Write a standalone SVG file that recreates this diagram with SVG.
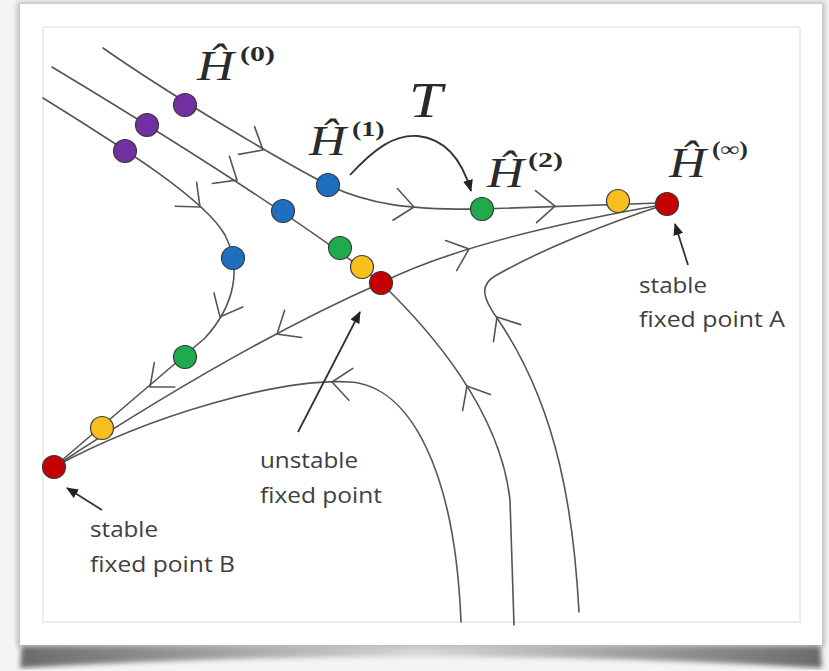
<svg xmlns="http://www.w3.org/2000/svg" xmlns:xlink="http://www.w3.org/1999/xlink" width="829" height="671" viewBox="0 0 829 671">
<style>
.flow{fill:none;stroke:#555;stroke-width:1.6;stroke-linecap:round}
.ann{fill:none;stroke:#333;stroke-width:1.8}
.lbl{font-family:"Open Sans","Liberation Sans",sans-serif;font-size:22px;fill:#404040}
.hh{font-family:"Liberation Serif","DejaVu Serif",serif;font-style:italic;font-size:42px;fill:#2a2a2a}
.sup{font-family:"Liberation Serif","DejaVu Serif",serif;font-weight:bold;font-size:20px;fill:#2a2a2a}
.dot{stroke:#3a3a3a;stroke-width:1.2}
.pu{fill:#7030a0}.bl{fill:#1f6fc0}.gr{fill:#1faa4e}.ye{fill:#f7c01e}.rd{fill:#c40000}
</style>
<defs>
<path id="chev" d="M-19,-16 L0,0 L-19,16" fill="none" stroke="#555" stroke-width="1.6" stroke-linecap="round" stroke-linejoin="miter"/>
<marker id="ah" markerUnits="userSpaceOnUse" markerWidth="12" markerHeight="10" refX="11" refY="5" orient="auto">
<path d="M0,0 L12,5 L0,10 Z" fill="#222"/>
</marker>
<linearGradient id="curl" x1="0" y1="0" x2="1" y2="0">
<stop offset="0" stop-color="#6a6a6a"/>
<stop offset="0.5" stop-color="#d8d8d8"/>
<stop offset="1" stop-color="#6a6a6a"/>
</linearGradient>
<filter id="blur" x="-5%" y="-5%" width="110%" height="110%"><feGaussianBlur stdDeviation="2.5"/></filter>
</defs>
<rect x="0" y="0" width="829" height="671" fill="#f4f4f4"/>
<g id="card">
<path d="M22,640 L820,640 L822,668 Q421,645 20,668 Z" fill="url(#curl)" filter="url(#blur)"/>
<rect x="17" y="2" width="808" height="645" fill="#bdbdbd" filter="url(#blur)"/>
<rect x="20" y="4" width="802" height="641" fill="#ffffff"/>
<rect x="43" y="27" width="757" height="595" fill="#ffffff" stroke="#e6e6e6" stroke-width="1.5"/>
</g>
<g id="connectors">
<path class="flow" d="M103,48 C170,95 280,160 328,185 C370,205 410,210 482,209 L660,203"/>
<path class="flow" d="M52,67 C150,126 290,212 381,283"/>
<path class="flow" d="M43,98 C130,152 205,200 225,235 C242,268 235,305 205,338 L54,467"/>
<path class="flow" d="M381,283 Q470,238 667,204"/>
<path class="flow" d="M381,283 Q240,345 54,467"/>
<path class="flow" d="M54,467 C150,415 280,378 350,382 C410,386 455,470 461,622"/>
<path class="flow" d="M381,283 C430,330 500,410 510,500 L514,625"/>
<path class="flow" d="M579,612 C574,520 560,410 497,318 C482,297 480,285 495,276 C540,250 610,222 667,204"/>
<use xlink:href="#chev" transform="translate(263,150) rotate(30)"/>
<use xlink:href="#chev" transform="translate(237,180) rotate(32)"/>
<use xlink:href="#chev" transform="translate(200,207) rotate(42)"/>
<use xlink:href="#chev" transform="translate(414,207) rotate(8)"/>
<use xlink:href="#chev" transform="translate(555,206) rotate(-2)"/>
<use xlink:href="#chev" transform="translate(469,249) rotate(-20)"/>
<use xlink:href="#chev" transform="translate(220,317) rotate(116)"/>
<use xlink:href="#chev" transform="translate(150,387) rotate(140)"/>
<use xlink:href="#chev" transform="translate(277,334) rotate(148)"/>
<use xlink:href="#chev" transform="translate(332,382) rotate(187)"/>
<use xlink:href="#chev" transform="translate(467,386) rotate(240)"/>
<use xlink:href="#chev" transform="translate(497,317) rotate(238)"/>
<path class="ann" d="M350,175 C375,148 395,134 418,136 C445,139 462,160 471,191" marker-end="url(#ah)"/>
<path class="ann" d="M688,265 L675,224" marker-end="url(#ah)"/>
<path class="ann" d="M298,432 L360,312" marker-end="url(#ah)"/>
<path class="ann" d="M102,510 L67,488" marker-end="url(#ah)"/>
</g>
<g id="dots">
<circle class="dot pu" cx="185" cy="105" r="11.5"/>
<circle class="dot pu" cx="147" cy="125" r="11.5"/>
<circle class="dot pu" cx="125" cy="151" r="11.5"/>
<circle class="dot bl" cx="328" cy="185" r="11.5"/>
<circle class="dot bl" cx="283" cy="211" r="11.5"/>
<circle class="dot bl" cx="233" cy="258" r="11.5"/>
<circle class="dot gr" cx="340" cy="248" r="11.5"/>
<circle class="dot gr" cx="482" cy="209" r="11.5"/>
<circle class="dot gr" cx="185" cy="357" r="11.5"/>
<circle class="dot ye" cx="362" cy="267" r="11.5"/>
<circle class="dot ye" cx="618" cy="201" r="11.5"/>
<circle class="dot ye" cx="102" cy="428" r="11.5"/>
</g>
<g id="fixed-unstable"><circle class="dot rd" cx="381" cy="283" r="11.5"/>
<text class="lbl" x="260" y="468" textLength="98" lengthAdjust="spacingAndGlyphs">unstable</text>
<text class="lbl" x="260" y="503" textLength="122" lengthAdjust="spacingAndGlyphs">fixed point</text></g>
<g id="fixed-A"><circle class="dot rd" cx="667" cy="204" r="11.5"/>
<text class="lbl" x="639" y="293" textLength="68" lengthAdjust="spacingAndGlyphs">stable</text>
<text class="lbl" x="639" y="327" textLength="146" lengthAdjust="spacingAndGlyphs">fixed point A</text></g>
<g id="fixed-B"><circle class="dot rd" cx="54" cy="467" r="11.5"/>
<text class="lbl" x="90" y="537" textLength="68" lengthAdjust="spacingAndGlyphs">stable</text>
<text class="lbl" x="90" y="572" textLength="145" lengthAdjust="spacingAndGlyphs">fixed point B</text></g>
<g id="H0"><text class="hh" transform="translate(197,80) scale(1.22,1)">Ĥ</text><text class="sup" transform="translate(240,61) scale(1.5,1)">(0)</text></g>
<g id="H1"><text class="hh" transform="translate(309,155) scale(1.22,1)">Ĥ</text><text class="sup" transform="translate(352,136) scale(1.4,1)">(1)</text></g>
<g id="H2"><text class="hh" transform="translate(487,187) scale(1.22,1)">Ĥ</text><text class="sup" transform="translate(528,167) scale(1.5,1)">(2)</text></g>
<g id="Hinf"><text class="hh" transform="translate(669,177) scale(1.22,1)">Ĥ</text><text class="sup" transform="translate(712,156) scale(1.3,1)">(∞)</text></g>
<g id="T"><text class="hh" style="font-size:50px" transform="translate(409,117) scale(1.2,1)">T</text></g>
</svg>
